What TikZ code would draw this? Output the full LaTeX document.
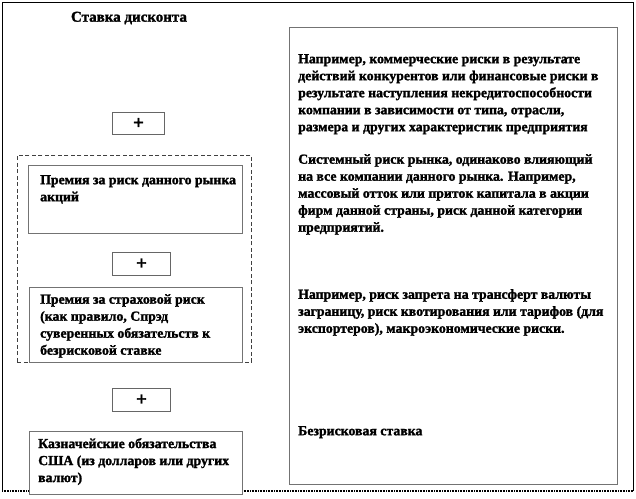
\documentclass[tikz,border=0pt]{standalone}
\usepackage{fontspec}
\setmainfont{Liberation Serif}
\newfontfamily\hvfont[UprightFont={* Bold},FakeBold=1.6]{Liberation Serif}
\begin{document}
\begin{tikzpicture}[x=1pt,y=-1pt,
  txt/.style={font=\hvfont\fontsize{13.8}{17}\selectfont, inner sep=0pt},
  tbox/.style={draw=black!55, line width=1.3pt, fill=white, inner sep=0pt, anchor=north west},
  plusbox/.style={draw=black!60, line width=0.9pt, fill=white, anchor=north west, inner sep=0pt, font=\hvfont\fontsize{19}{19}\selectfont},
  frame/.style={line width=1pt, black}]
\useasboundingbox (0,0) rectangle (636,498);
% outer frame
\coordinate (ftl) at (2,2);
\coordinate (ftr) at (633,2);
\coordinate (fbl) at (2,491);
\coordinate (fbr) at (633,491);
\draw[frame] (fbl) -- (ftl) -- (ftr) -- (fbr);
\draw[line width=1.2pt, dash pattern=on 0.8pt off 0.8pt] (fbl) -- (fbr);
% title
\node[txt, anchor=center, font=\hvfont\fontsize{15}{17}\selectfont] (title) at (129,18) {Ставка дисконта};
% right box
\node[tbox, minimum width=328pt, minimum height=457pt] (rbox) at (289,27) {};
\node[txt, anchor=north west, align=left] (r1) at (298,54) {Например, коммерческие риски в результате\\действий конкурентов  или  финансовые риски в\\результате наступления некредитоспособности\\компании  в  зависимости от типа, отрасли,\\размера и других  характеристик предприятия};
\node[txt, anchor=north west, align=left] (r2) at (298,154) {Системный риск рынка,  одинаково  влияющий\\на все компании  данного рынка. Например,\\массовый отток или приток  капитала в акции\\фирм  данной страны,  риск данной категории\\предприятий.};
\node[txt, anchor=north west, align=left] (r3) at (298,289) {Например, риск запрета на трансферт валюты\\заграницу,  риск квотирования или  тарифов (для\\экспортеров), макроэкономические риски.};
\node[txt, anchor=north west, align=left] (r4) at (298,426) {Безрисковая ставка};
% plus 1
\node[plusbox, minimum width=52pt, minimum height=22pt] (p1) at (112,112) {+};
% dashed group
\node[draw=black!75, line width=0.8pt, dash pattern=on 4pt off 2.5pt, minimum width=234pt, minimum height=207pt, anchor=north west] (grp) at (17,155) {};
% box 1
\node[tbox, minimum width=214pt, minimum height=68pt] (b1) at (28,165) {};
\node[txt, anchor=north west, align=left] (b1t) at (40,175) {Премия за риск данного  рынка\\акций};
% plus 2
\node[plusbox, minimum width=58pt, minimum height=23pt] (p2) at (112,252) {+};
% box 2
\node[tbox, minimum width=213pt, minimum height=75pt] (b2) at (29,287) {};
\node[txt, anchor=north west, align=left] (b2t) at (40,294) {Премия за страховой риск\\(как правило,  Спрэд\\суверенных  обязательств к\\безрисковой ставке};
% plus 3
\node[plusbox, minimum width=58pt, minimum height=23pt] (p3) at (112,388) {+};
% box 3
\node[tbox, minimum width=213pt, minimum height=63pt] (b3) at (29,431) {};
\node[txt, anchor=north west, align=left] (b3t) at (38,438) {Казначейские обязательства\\США (из долларов  или других\\валют)};
\end{tikzpicture}
\end{document}
